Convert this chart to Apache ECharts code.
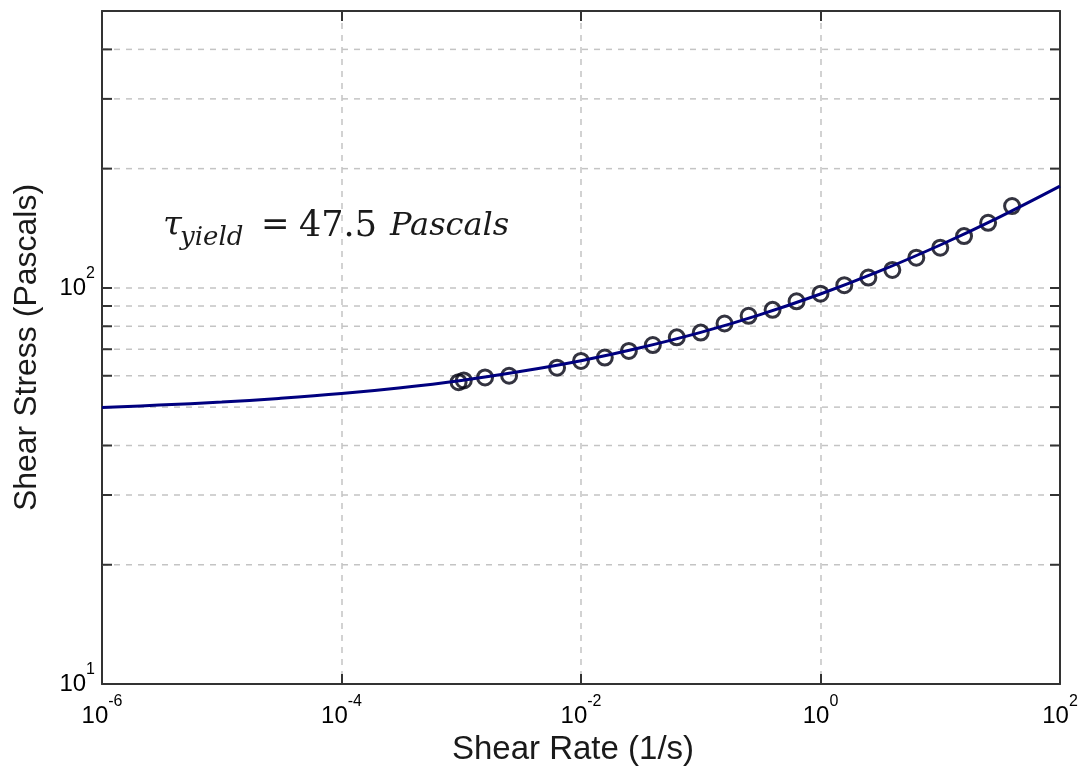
<!DOCTYPE html>
<html><head><meta charset="utf-8">
<script src="https://cdn.jsdelivr.net/npm/echarts@6/dist/echarts.min.js"></script>
<style>html,body{margin:0;padding:0;background:#fff}#c{width:1082px;height:772px}</style>
</head><body><div id="c"></div>
<script>
// Fitted curve
const curveX = [1e-6, 3e-6, 1e-5, 3e-5, 1e-4, 3e-4, 1e-3, 3e-3, 1e-2, 3e-2, 0.1, 0.3, 1, 3, 10, 30, 100];
const curveY = [49.9, 50.6, 51.5, 52.6, 54.1, 55.9, 58.4, 61.4, 65.5, 70.4, 77.2, 85.2, 96.5, 109.7, 128.3, 150.0, 180.6];
// Measured points
const markerX = [0.00095, 0.00105, 0.00158, 0.00251, 0.00631, 0.01, 0.0158, 0.0251, 0.0398, 0.0631, 0.1, 0.158, 0.251, 0.398, 0.631, 1, 1.58, 2.51, 3.98, 6.31, 10, 15.8, 25.1, 39.8];
const markerY = [57.8, 58.4, 59.4, 60.0, 62.9, 65.4, 66.7, 69.3, 71.7, 75.0, 77.1, 81.3, 85.0, 88.0, 92.5, 96.7, 101.6, 106.2, 111.0, 119.2, 126.3, 135.1, 146.0, 160.9];
// Minor ticks / grid on the y axis
const yMinorTicks = [20, 30, 40, 50, 60, 70, 80, 90, 200, 300, 400];
const xRange = [1e-6, 1e2];
const yRange = [10, 500];
// Annotation pieces
const annoParts = ['τ', 'yield', '=', '47.5', 'Pascals'];

const AX = '#333333';
const GRID = '#c4c4c4';
const SANS = 'Liberation Sans, Arial, sans-serif';
const SERIF = 'DejaVu Serif, serif';
const TXT = '#1a1a1a';

function expLabel(v) {
  const l = Math.log10(v);
  const e = Math.round(l);
  if (Math.abs(l - e) > 1e-6) return '';
  return '{b|10}{e|' + e + '}';
}
const labelRich = {
  b: { fontSize: 24, fontFamily: SANS, color: '#000' },
  e: { fontSize: 16, fontFamily: SANS, color: '#000', padding: [0, 0, 28, 0] }
};

const chart = echarts.init(document.getElementById('c'));
const axisLine = { show: true, onZero: false, lineStyle: { color: AX, width: 2 } };
const axisTick = { show: true, inside: true, length: 10, lineStyle: { color: AX, width: 2 } };

function annoText(txt, left, top, size, italic) {
  return {
    type: 'text', left: left, top: top, z: 10, silent: true,
    style: { text: txt, fontSize: size, fontFamily: SERIF, fontStyle: italic ? 'italic' : 'normal', fill: TXT }
  };
}

chart.setOption({
  animation: false,
  backgroundColor: '#fff',
  grid: { left: 102, right: 22, top: 11, bottom: 88, containLabel: false },
  xAxis: [{
    type: 'log', logBase: 10, min: xRange[0], max: xRange[1], interval: 2, position: 'bottom',
    axisLine, axisTick,
    axisLabel: { formatter: expLabel, rich: labelRich, margin: 10, showMinLabel: true, showMaxLabel: true },
    splitLine: { show: true, lineStyle: { color: GRID, width: 1.5, type: [6, 6] } },
    name: 'Shear Rate (1/s)', nameLocation: 'middle', nameGap: 49,
    nameTextStyle: { fontSize: 33, fontFamily: SANS, color: TXT, padding: [0, 16, 0, 0] }
  }, {
    type: 'log', logBase: 10, min: xRange[0], max: xRange[1], interval: 2, position: 'top',
    axisLine, axisTick, axisLabel: { show: false }, splitLine: { show: false }
  }],
  yAxis: [{
    type: 'log', logBase: 10, min: yRange[0], max: yRange[1], interval: 1, position: 'left',
    axisLine, axisTick,
    axisLabel: { formatter: expLabel, rich: labelRich, margin: 7, showMinLabel: true, showMaxLabel: true },
    splitLine: { show: true, lineStyle: { color: GRID, width: 1.5, type: [6, 6] } },
    name: 'Shear Stress (Pascals)', nameLocation: 'middle', nameGap: 59, nameRotate: 90,
    nameTextStyle: { fontSize: 32, fontFamily: SANS, color: TXT }
  }, {
    type: 'log', logBase: 10, min: yRange[0], max: yRange[1], interval: 1, position: 'right',
    axisLine, axisTick, axisLabel: { show: false }, splitLine: { show: false }
  }],
  graphic: [
    annoText(annoParts[0], 163, 209, 34, true),
    annoText(annoParts[1], 180, 225, 26, true),
    annoText(annoParts[2], 261, 209, 34, false),
    annoText(annoParts[3], 299, 209, 35, false),
    annoText(annoParts[4], 390, 211, 32, true)
  ],
  series: [{
    type: 'custom', z: 1, clip: false, silent: true,
    data: yMinorTicks.map(v => [xRange[0], v]),
    encode: { x: 0, y: 1 },
    renderItem: function (params, api) {
      const v = api.value(1);
      const a = api.coord([xRange[0], v]);
      const b = api.coord([xRange[1], v]);
      return {
        type: 'group', children: [
          { type: 'line', shape: { x1: a[0], y1: a[1], x2: b[0], y2: b[1] }, style: { stroke: GRID, lineWidth: 1.5, lineDash: [6, 6] } },
          { type: 'line', shape: { x1: a[0], y1: a[1], x2: a[0] + 10, y2: a[1] }, style: { stroke: AX, lineWidth: 2 } },
          { type: 'line', shape: { x1: b[0] - 10, y1: b[1], x2: b[0], y2: b[1] }, style: { stroke: AX, lineWidth: 2 } }
        ]
      };
    }
  }, {
    type: 'scatter', z: 3, silent: true,
    symbol: 'circle', symbolSize: 15,
    itemStyle: { color: 'rgba(0,0,0,0)', borderColor: '#000010', borderWidth: 3 },
    data: markerX.map((x, i) => [x, markerY[i]])
  }, {
    type: 'line', z: 4, silent: true, showSymbol: false, smooth: 0.4,
    lineStyle: { color: '#00007f', width: 3 },
    data: curveX.map((x, i) => [x, curveY[i]])
  }]
});
</script>
</body></html>
